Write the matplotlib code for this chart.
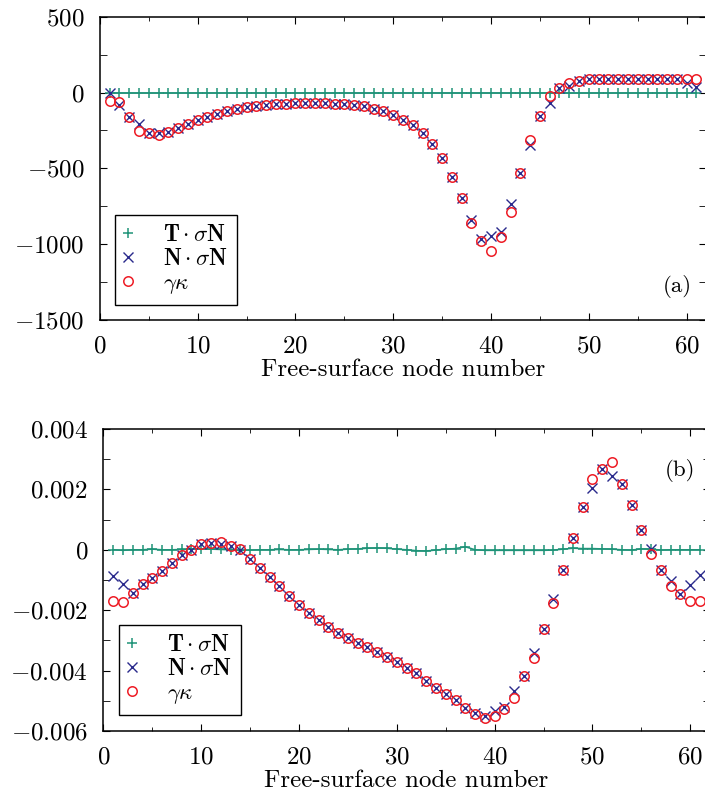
import matplotlib

matplotlib.use("Agg")
import matplotlib.pyplot as plt
import numpy as np
from matplotlib.ticker import FixedLocator, MultipleLocator

# free-surface node numbers
nodes = np.arange(1, 62)

# panel (a): stress components and surface tension term
top_tsn = [0.0] * 61
top_nsn = [0, -84, -163, -209, -264, -264, -257, -233, -207, -182,
           -160, -143, -121, -106, -95, -86, -79, -75, -73, -70,
           -68, -68, -70, -73, -77, -84, -92, -106, -121, -147,
           -180, -215, -270, -338, -435, -554, -697, -840, -967, -945,
           -923, -734, -532, -349, -154, -70, 31, 44, 79, 88,
           88, 88, 88, 88, 88, 88, 88, 88, 88, 66,
           35]
top_gk = [-59, -64, -163, -251, -264, -279, -257, -233, -207, -182,
          -160, -143, -121, -106, -95, -86, -79, -75, -73, -70,
          -68, -68, -70, -73, -77, -84, -92, -106, -121, -147,
          -180, -215, -270, -338, -435, -554, -697, -862, -976, -1042,
          -952, -785, -532, -312, -154, -26, 31, 66, 79, 88,
          88, 88, 88, 88, 88, 88, 88, 88, 88, 88,
          90]

# panel (b): values in units of 1e-3
bot_tsn = [0.0, -0.02, 0.0, 0.0, 0.02, 0.0, 0.0, 0.01, 0.02, 0.03,
           0.02, 0.01, 0.0, -0.02, -0.01, 0.0, 0.0, 0.01, 0.0, 0.0,
           0.01, 0.02, 0.01, 0.0, 0.02, 0.03, 0.05, 0.06, 0.05, 0.02,
           0.0, -0.03, -0.04, -0.01, 0.02, 0.04, 0.10, 0.0, -0.02, -0.02,
           -0.02, -0.02, -0.02, -0.02, -0.02, -0.01, 0.02, 0.05, 0.04, 0.04,
           0.03, 0.02, 0.0, -0.01, 0.03, 0.02, -0.01, 0.0, 0.0, 0.0,
           0.0]
bot_nsn = [-0.86, -1.15, -1.42, -1.13, -0.93, -0.71, -0.44, -0.18, 0.0, 0.18,
           0.24, 0.20, 0.13, 0.0, -0.29, -0.60, -0.90, -1.21, -1.52, -1.82,
           -2.09, -2.34, -2.56, -2.75, -2.91, -3.08, -3.22, -3.38, -3.55, -3.71,
           -3.91, -4.07, -4.33, -4.57, -4.77, -4.99, -5.23, -5.39, -5.52, -5.34,
           -5.19, -4.68, -4.19, -3.41, -2.62, -1.62, -0.66, 0.40, 1.41, 2.04,
           2.68, 2.43, 2.19, 1.49, 0.67, 0.03, -0.68, -1.02, -1.48, -1.17,
           -0.85]
bot_gk = [-1.71, -1.73, -1.42, -1.13, -0.93, -0.71, -0.44, -0.18, 0.0, 0.18,
          0.24, 0.26, 0.13, 0.02, -0.29, -0.60, -0.90, -1.21, -1.52, -1.82,
          -2.09, -2.34, -2.56, -2.75, -2.91, -3.08, -3.22, -3.38, -3.55, -3.71,
          -3.91, -4.07, -4.33, -4.57, -4.77, -4.99, -5.23, -5.45, -5.57, -5.49,
          -5.26, -4.90, -4.19, -3.58, -2.62, -1.77, -0.66, 0.40, 1.41, 2.35,
          2.68, 2.90, 2.19, 1.49, 0.67, -0.13, -0.68, -1.20, -1.48, -1.71,
          -1.68]

top_yticks = [-1500, -1000, -500, 0, 500]
top_yticklabels = ["$-1500$", "$-1000$", "$-500$", "$0$", "$500$"]
bot_yticks = [-0.006, -0.004, -0.002, 0.0, 0.002, 0.004]
bot_yticklabels = ["$-0.006$", "$-0.004$", "$-0.002$", "$0$", "$0.002$", "$0.004$"]
xticks = [0, 10, 20, 30, 40, 50, 60]
xticklabels = ["$%d$" % t for t in xticks]

labels = [r"$\mathbf{T}\cdot\sigma\mathbf{N}$", r"$\mathbf{N}\cdot\sigma\mathbf{N}$", r"$\gamma\kappa$"]
GREEN = "#1f9378"
BLUE = "#2a2a8c"
RED = "#ee1c25"

plt.rcParams["font.family"] = "cmr10"
plt.rcParams["mathtext.fontset"] = "cm"
plt.rcParams["axes.unicode_minus"] = False

fig = plt.figure(figsize=(7.05, 7.96), dpi=100)
ax_top = fig.add_axes([0.1416, 0.598, 0.8601, 0.381])
ax_bot = fig.add_axes([0.1467, 0.0817, 0.8601, 0.3794])


def draw_panel(ax, tsn, nsn, gk, yticks, yticklabels, ylim, yminor, tag, tag_xy, legend_anchor):
    ax.plot(nodes, tsn, "-", color=GREEN, linewidth=1.1)
    ax.plot(nodes, tsn, "+", color=GREEN, markersize=7.2, markeredgewidth=1.1, label=labels[0])
    ax.plot(nodes, nsn, "x", color=BLUE, markersize=6.5, markeredgewidth=1.0, label=labels[1])
    ax.plot(nodes, gk, "o", color=RED, markersize=6.8, markerfacecolor="none", markeredgewidth=1.1, label=labels[2])
    ax.set_xlim(0, 62)
    ax.set_ylim(*ylim)
    ax.xaxis.set_major_locator(FixedLocator(xticks))
    ax.set_xticklabels(xticklabels)
    ax.xaxis.set_minor_locator(MultipleLocator(5))
    ax.yaxis.set_major_locator(FixedLocator(yticks))
    ax.set_yticklabels(yticklabels)
    ax.yaxis.set_minor_locator(MultipleLocator(yminor))
    ax.tick_params(which="both", direction="in", top=True, right=True, labelsize=18, pad=11)
    ax.tick_params(axis="x", which="major", length=5)
    ax.tick_params(axis="x", which="minor", length=2.8)
    ax.tick_params(axis="y", which="both", length=5)
    for spine in ax.spines.values():
        spine.set_linewidth(1.1)
    ax.set_xlabel("Free-surface node number", fontsize=18, labelpad=1)
    ax.text(tag_xy[0], tag_xy[1], tag, transform=ax.transAxes, fontsize=16.5, ha="center", va="center")
    leg = ax.legend(loc="lower left", bbox_to_anchor=legend_anchor, borderaxespad=0, fontsize=16.5,
                    frameon=True, fancybox=False, edgecolor="black", framealpha=1,
                    handlelength=0.36, handletextpad=1.34, labelspacing=0.15, borderpad=0.4)
    leg.get_frame().set_linewidth(1.0)


draw_panel(ax_top, top_tsn, top_nsn, top_gk, top_yticks, top_yticklabels, (-1500, 500), 250,
           "(a)", (0.953, 0.112), (0.0246, 0.049))
draw_panel(ax_bot, np.array(bot_tsn) * 1e-3, np.array(bot_nsn) * 1e-3, np.array(bot_gk) * 1e-3,
           bot_yticks, bot_yticklabels, (-0.006, 0.004), 0.001,
           "(b)", (0.951, 0.861), (0.026, 0.053))

fig.savefig("out.png", dpi=100)
